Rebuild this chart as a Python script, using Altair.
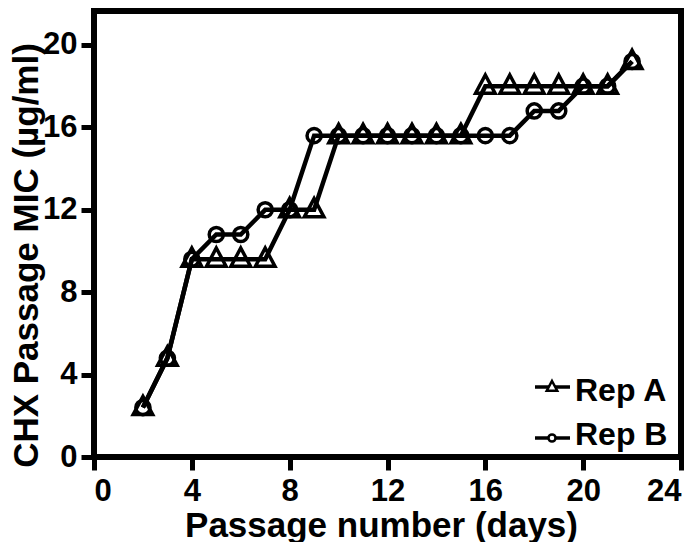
import altair as alt
import pandas as pd

# ---- data ----
days = list(range(2, 23))
rep_a = [2.4, 4.8, 9.6, 9.6, 9.6, 9.6, 12.0, 12.0,
         15.6, 15.6, 15.6, 15.6, 15.6, 15.6,
         18.0, 18.0, 18.0, 18.0, 18.0, 18.0, 19.2]
rep_b = [2.4, 4.8, 9.6, 10.8, 10.8, 12.0, 12.0,
         15.6, 15.6, 15.6, 15.6, 15.6, 15.6, 15.6, 15.6, 15.6,
         16.8, 16.8, 18.0, 18.0, 19.2]
series_names = ["Rep A", "Rep B"]
x_ticks = [0, 4, 8, 12, 16, 20, 24]
y_ticks = [0, 4, 8, 12, 16, 20]

df = pd.DataFrame({
    "day": days * 2,
    "mic": rep_a + rep_b,
    "series": [series_names[0]] * len(days) + [series_names[1]] * len(days),
})
leg_df = pd.DataFrame({"series": series_names})

FONT = "Liberation Sans"
tri_path = "M0,-1.15L1,0.72L-1,0.72Z"

x_enc = alt.X("day:Q", scale=alt.Scale(domain=[0, 24], nice=False),
              axis=alt.Axis(values=x_ticks, title="Passage number (days)",
                            titleX=287, titleY=79, titleBaseline="alphabetic",
                            labelPadding=6))
y_enc = alt.Y("mic:Q", scale=alt.Scale(domain=[0, 21.65], nice=False),
              axis=alt.Axis(values=y_ticks, title="CHX Passage MIC (µg/ml)",
                            titleX=-57, titleY=244, titleBaseline="alphabetic",
                            titleAngle=270, titleAlign="center",
                            labelPadding=4))

shape_scale = alt.Scale(domain=series_names, range=[tri_path, "circle"])

lines = alt.Chart(df).mark_line(color="black", strokeWidth=4.5).encode(
    x=x_enc, y=y_enc, detail="series:N")

points = alt.Chart(df).mark_point(filled=False, color="black", strokeWidth=3.5, opacity=1).encode(
    x="day:Q", y="mic:Q",
    shape=alt.Shape("series:N", scale=shape_scale, legend=None),
    size=alt.Size("series:N", scale=alt.Scale(domain=series_names, range=[380, 200]), legend=None),
)

data_layer = alt.layer(lines, points)

leg_y_sym = alt.Y("series:N", axis=None,
                  scale=alt.Scale(type="point", domain=series_names, range=[376, 427], padding=0))
leg_rule = alt.Chart(leg_df).mark_rule(color="black", strokeWidth=3.5).encode(
    x=alt.value(441), x2=alt.value(476), y=leg_y_sym)
leg_pts = alt.Chart(leg_df).mark_point(filled=False, fill="white", color="black",
                                       strokeWidth=2.5, opacity=1).encode(
    x=alt.value(458), y=leg_y_sym,
    shape=alt.Shape("series:N", scale=shape_scale, legend=None),
    size=alt.Size("series:N", scale=alt.Scale(domain=series_names, range=[110, 50]), legend=None),
)
leg_text = alt.Chart(leg_df).mark_text(
    align="left", baseline="alphabetic", font=FONT, fontSize=32,
    fontWeight="bold", color="black").encode(
    x=alt.value(481),
    y=alt.Y("series:N", axis=None,
            scale=alt.Scale(type="point", domain=series_names, range=[390, 434], padding=0)),
    text="series:N")

chart = alt.layer(data_layer, leg_rule, leg_pts, leg_text).resolve_scale(
    y="independent", shape="independent", size="independent"
).properties(
    width=587, height=446,
    autosize=alt.AutoSizeParams(type="none"),
    padding={"left": 86, "top": 3, "right": 10, "bottom": 85},
).configure_view(
    stroke="black", strokeWidth=6
).configure_axis(
    grid=False, domain=False,
    ticks=True, tickColor="black", tickWidth=5, tickSize=13,
    labelFont=FONT, labelFontSize=31, labelFontWeight="bold", labelColor="black",
    titleFont=FONT, titleFontSize=35, titleFontWeight="bold", titleColor="black",
)

chart.save("out.html", embed_options={"renderer": "svg", "actions": False})
